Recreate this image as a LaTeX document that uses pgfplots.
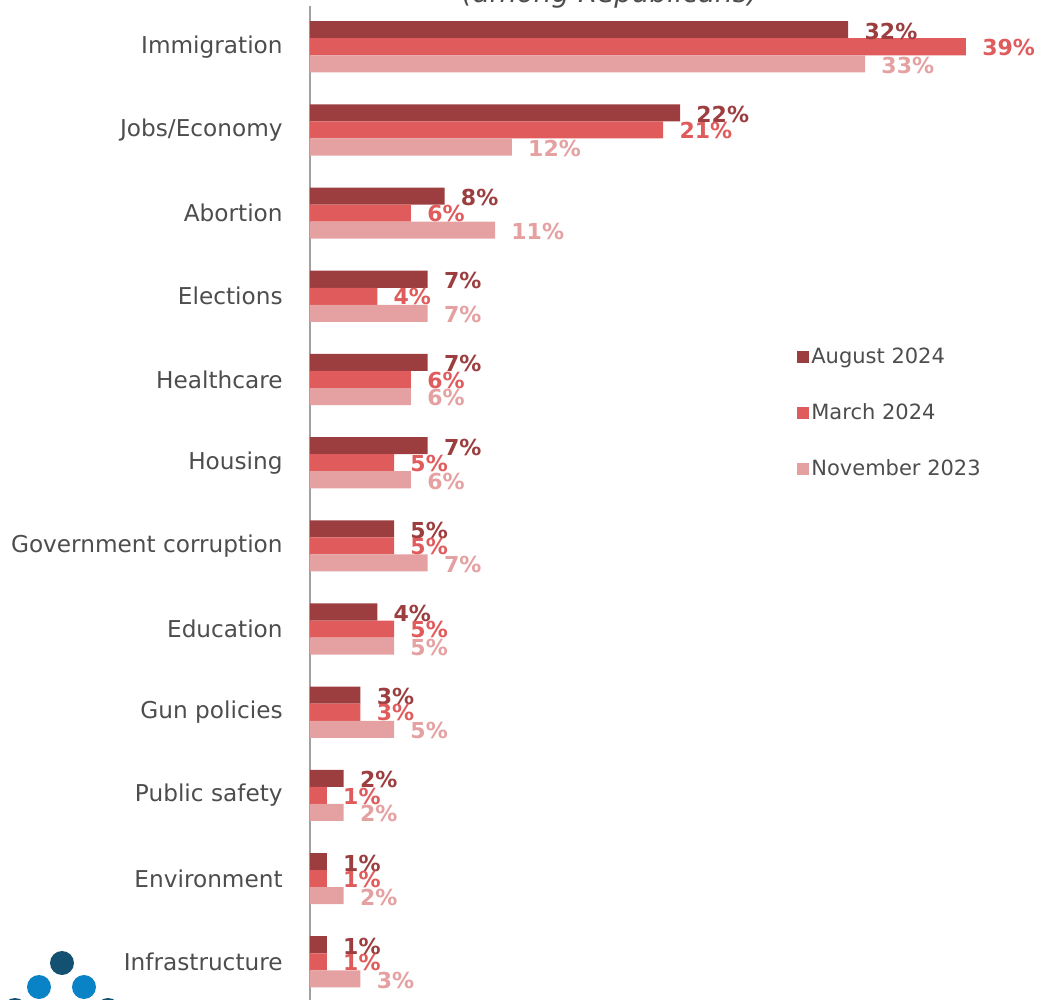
\documentclass[border=0pt]{standalone}
\usepackage{pgfplots}
\pgfplotsset{compat=1.18}
\usepackage{fontspec}
\setmainfont{DejaVu Sans}

\definecolor{aug}{RGB}{156,62,63}
\definecolor{mar}{RGB}{224,91,92}
\definecolor{nov}{RGB}{229,160,161}
\definecolor{txt}{RGB}{77,77,77}
\definecolor{navy}{RGB}{20,80,112}
\definecolor{logoblue}{RGB}{10,130,198}

\pgfplotsset{sqlegend/.style={legend image code/.code={\fill[##1] (0pt,-3pt) rectangle (6pt,3pt);}}}

\begin{document}
\begin{tikzpicture}
% page = 1040 x 1000 px, 1 px = 0.5 pt
\path[use as bounding box] (0,0) rectangle (520pt,-500pt);

% title, mostly above the page
\node[font=\itshape\fontsize{13.9}{16}\selectfont, text=txt, anchor=base, inner sep=0pt]
  at (305pt,-1.5pt) {(among Republicans)};

% logo, cut at the bottom
\fill[navy] (31pt,-481.5pt) circle (6pt);
\fill[logoblue] (19.5pt,-493.5pt) circle (6pt);
\fill[logoblue] (42pt,-493.5pt) circle (6pt);
\fill[navy] (7.5pt,-505pt) circle (6pt);
\fill[navy] (54pt,-505pt) circle (6pt);

\begin{axis}[
  at={(155pt,-3pt)}, anchor=north west,
  scale only axis, width=336.4pt, height=507pt,
  xmin=0, xmax=40, ymin=-0.49, ymax=11.7,
  y dir=reverse,
  axis x line=none, axis y line*=left,
  axis line style={draw=black!37, line width=1pt},
  xtick=\empty,
  ytick={0,...,11},
  yticklabels={Immigration, Jobs/Economy, Abortion, Elections, Healthcare, Housing,
    Government corruption, Education, Gun policies, Public safety, Environment, Infrastructure},
  major tick length=0pt,
  yticklabel style={font=\fontsize{11.6}{13}\selectfont, text=txt, anchor=east, inner sep=0pt, xshift=-13.5pt},
  clip=false,
  point meta=x,
  nodes near coords={\pgfmathprintnumber{\pgfplotspointmeta}\%},
  every node near coord/.append style={anchor=west, inner sep=0pt, xshift=8pt,
    font=\bfseries\fontsize{11}{13}\selectfont, /pgf/number format/assume math mode=true},
  legend cell align=left,
  legend style={at={(axis description cs:0.7238,0.5986)}, anchor=west,
    draw=none, fill=none, inner sep=0pt,
    font=\fontsize{10.5}{12}\selectfont, text=txt,
    row sep=14.5pt,
    /tikz/every odd column/.append style={column sep=-1pt}},
]

% August 2024
\addplot[xbar, sqlegend, draw=none, fill=aug, bar width=0.205, bar shift=-0.205,
  every node near coord/.append style={text=aug, yshift=7.8pt}] coordinates {
  (32,0) (22,1) (8,2) (7,3) (7,4) (7,5) (5,6) (4,7) (3,8) (2,9) (1,10) (1,11)};
% March 2024
\addplot[xbar, sqlegend, draw=none, fill=mar, bar width=0.205, bar shift=0,
  every node near coord/.append style={text=mar, yshift=-0.3pt}] coordinates {
  (39,0) (21,1) (6,2) (4,3) (6,4) (5,5) (5,6) (5,7) (3,8) (1,9) (1,10) (1,11)};
% November 2023
\addplot[xbar, sqlegend, draw=none, fill=nov, bar width=0.205, bar shift=0.205,
  every node near coord/.append style={text=nov, yshift=-9.2pt}] coordinates {
  (33,0) (12,1) (11,2) (7,3) (6,4) (6,5) (7,6) (5,7) (5,8) (2,9) (2,10) (3,11)};

\legend{August 2024, March 2024, November 2023}
\end{axis}
\end{tikzpicture}
\end{document}
